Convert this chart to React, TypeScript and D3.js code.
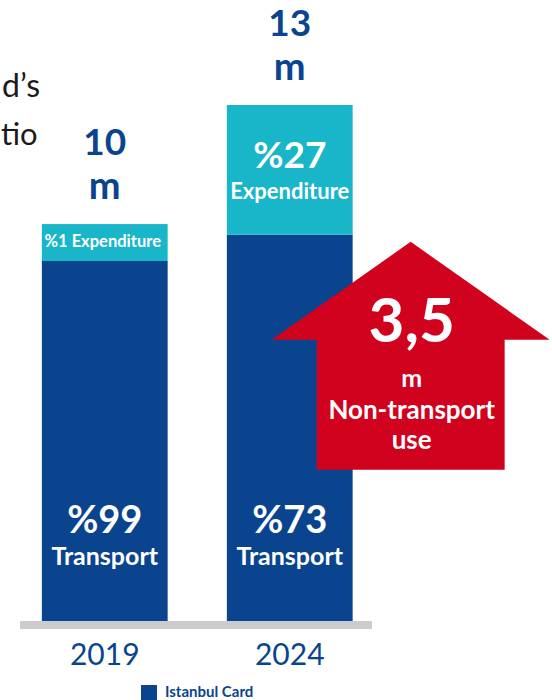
import React, { useRef, useEffect } from "react";
import * as d3 from "d3";

const years = ["2019", "2024"];
const transport = [9.07, 9.73]; // million, as drawn
const expenditure = [0.93, 3.27];
const totalLabels = ["10", "13"];
const transportPct = ["%99", "%73"];
const expenditurePct = ["%1", "%27"];
const nonTransport = "3,5";

const DARK = "#0a448e";
const CYAN = "#19b6c9";
const RED = "#d0021e";
const FONT = "Lato, 'Open Sans', sans-serif";

export default function App() {
  const ref = useRef<SVGSVGElement>(null);

  useEffect(() => {
    document.body.style.margin = "0";
    const width = 552, height = 700;
    const svg = d3.select(ref.current);
    svg.selectAll("*").remove();
    svg.attr("width", width).attr("height", height);

    const x = d3.scaleBand().domain(years).range([21.5, 373]).paddingInner(0.32).paddingOuter(0.11);
    const y = d3.scaleLinear().domain([0, 13]).range([621, 105]);
    const bw = x.bandwidth();

    // leftover slide text on the left edge
    svg.append("text").attr("x", 40).attr("y", 97).attr("text-anchor", "end")
      .style("font-family", FONT).style("font-size", "32px").style("fill", "#1a1a1a").text("d’s");
    svg.append("text").attr("x", 1).attr("y", 145)
      .style("font-family", FONT).style("font-size", "31px").style("fill", "#1a1a1a").text("tio");

    const rows = years.map((yr, i) => ({
      yr, t: transport[i], e: expenditure[i], total: totalLabels[i],
      tp: transportPct[i], ep: expenditurePct[i],
    }));

    const g = svg.append("g");
    g.selectAll("rect.tr").data(rows).enter().append("rect")
      .attr("x", d => x(d.yr)!).attr("width", bw)
      .attr("y", d => y(d.t)).attr("height", d => y(0) - y(d.t))
      .attr("fill", DARK);
    g.selectAll("rect.ex").data(rows).enter().append("rect")
      .attr("x", d => x(d.yr)!).attr("width", bw)
      .attr("y", d => y(d.t + d.e)).attr("height", d => y(d.t) - y(d.t + d.e))
      .attr("fill", CYAN);

    // baseline
    svg.append("rect").attr("x", 20).attr("y", y(0)).attr("width", 352).attr("height", 8).attr("fill", "#cccccc");

    const txt = (sel: any, px: number, py: number, s: string, size: number, color: string, weight = 700) =>
      sel.append("text").attr("x", px).attr("y", py).attr("text-anchor", "middle")
        .style("font-family", FONT).style("font-size", size + "px").style("font-weight", weight)
        .style("fill", color).text(s);

    rows.forEach((d, i) => {
      const cx = x(d.yr)! + bw / 2;
      const top = y(d.t + d.e);
      txt(svg, cx, top - 69, d.total, 37, DARK);
      txt(svg, cx, top - 25, "m", 38, DARK);
      txt(svg, cx, y(0) - 88, d.tp, 38, "#fff");
      txt(svg, cx, y(0) - 56, "Transport", 25, "#fff");
      if (i === 0) {
        txt(svg, cx - 2, top + 23, d.ep + " Expenditure", 16.5, "#fff");
      } else {
        txt(svg, cx, top + 63, d.ep, 37, "#fff");
        txt(svg, cx, top + 94, "Expenditure", 22, "#fff");
      }
      txt(svg, cx, 665, d.yr, 30, DARK, 400);
    });

    // red arrow for non-transport use, anchored on the 2024 bar
    const bx = x("2024")! + bw;
    const tipY = y(transport[1]) + 7;
    const ax = bx + 58;
    const arrow = [
      [ax, tipY], [ax + 139, tipY + 98], [ax + 94, tipY + 98], [ax + 94, tipY + 228],
      [ax - 94, tipY + 228], [ax - 94, tipY + 98], [ax - 139, tipY + 98],
    ];
    svg.append("path").attr("d", d3.line()(arrow as [number, number][]) + "Z").attr("fill", RED);
    txt(svg, ax + 1, tipY + 100, nonTransport, 62, "#fff");
    txt(svg, ax + 1, tipY + 145, "m", 25, "#fff");
    txt(svg, ax + 1, tipY + 177.5, "Non-transport", 26, "#fff");
    txt(svg, ax + 1, tipY + 207.5, "use", 26, "#fff");

    // legend
    svg.append("rect").attr("x", 141).attr("y", 685).attr("width", 16).attr("height", 16).attr("fill", DARK);
    svg.append("text").attr("x", 165).attr("y", 697)
      .style("font-family", FONT).style("font-size", "15px").style("font-weight", 700)
      .style("fill", DARK).text("Istanbul Card");
  }, []);

  return <svg ref={ref} style={{ display: "block" }}></svg>;
}
